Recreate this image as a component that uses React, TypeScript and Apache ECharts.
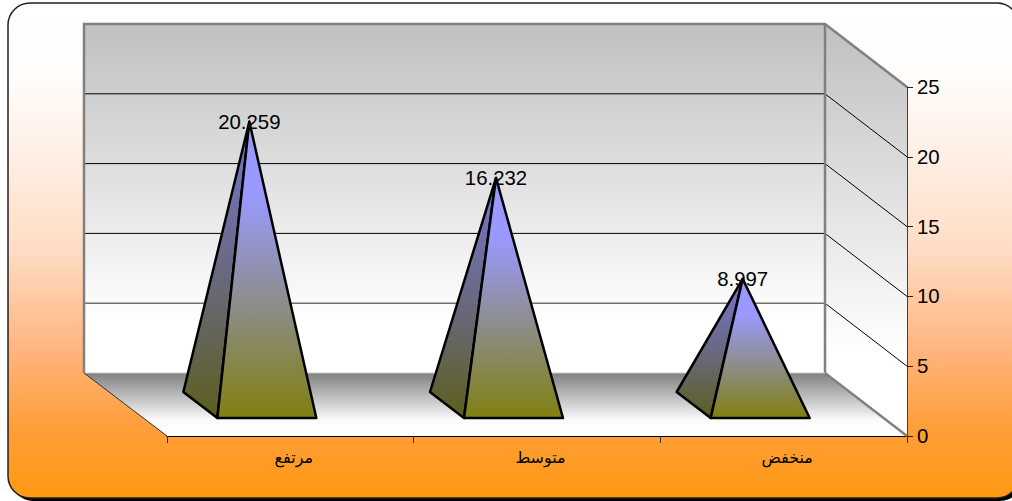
import React, { useEffect, useRef } from "react";
import * as echarts from "echarts";

const categories = ["مرتفع", "متوسط", "منخفض"];
const values = [20.259, 16.232, 8.997];
const yTicks = [5, 10, 15, 20, 25];

// 3-D projection of the plot box (px)
const DEPTH_X = 82;
const DEPTH_Y = 63;

const LG = (stops: [number, string][]) =>
  new echarts.graphic.LinearGradient(0, 0, 0, 1, stops.map(([offset, color]) => ({ offset, color })));

function renderWalls(_: any, api: any) {
  const [x0, y0] = api.coord([0, 0]);
  const size = api.size([1, 0]);
  const left = x0 - size[0] / 2;
  const right = left + size[0] * categories.length;
  const yTop = api.coord([0, 25])[1];
  const bx0 = left - DEPTH_X - 1;
  const bx1 = right - DEPTH_X;
  const by0 = y0 - DEPTH_Y;
  const byTop = yTop - DEPTH_Y;
  const children: any[] = [
    {
      type: "polygon",
      shape: { points: [[bx0, by0], [bx1, by0], [right, y0], [left, y0]] },
      style: { fill: LG([[0, "#808080"], [0.75, "#fbfbfb"], [1, "#ffffff"]]) },
    },
    {
      type: "polygon",
      shape: { points: [[bx1, byTop], [right, yTop], [right, y0], [bx1, by0]] },
      style: { fill: LG([[0, "#c0c0c0"], [0.8, "#ffffff"], [1, "#ffffff"]]) },
    },
    {
      type: "rect",
      shape: { x: bx0, y: byTop, width: bx1 - bx0, height: by0 - byTop },
      style: { fill: LG([[0, "#c0c0c0"], [0.85, "#ffffff"], [1, "#ffffff"]]) },
    },
  ];
  yTicks.slice(0, -1).forEach((t, i) => {
    const y = api.coord([0, t])[1];
    children.push(
      {
        type: "line",
        shape: { x1: bx0, y1: y - DEPTH_Y, x2: bx1, y2: y - DEPTH_Y },
        style: { stroke: i === 0 ? "#707070" : "#000000", lineWidth: i === 0 ? 1.5 : 1 },
      },
      {
        type: "line",
        shape: { x1: bx1, y1: y - DEPTH_Y, x2: right, y2: y },
        style: { stroke: "#000000", lineWidth: 1 },
      }
    );
  });
  children.push(
    {
      type: "polyline",
      shape: { points: [[bx0, by0], [bx0, byTop], [bx1, byTop], [right, yTop]] },
      style: { fill: "none", stroke: "#808080", lineWidth: 2.5 },
    },
    {
      type: "polyline",
      shape: { points: [[bx1, byTop], [bx1, by0], [right, y0]] },
      style: { fill: "none", stroke: "#808080", lineWidth: 2.5 },
    },
    {
      type: "line",
      shape: { x1: bx0, y1: by0, x2: bx1, y2: by0 },
      style: { stroke: "#c8c8c8", lineWidth: 1 },
    },
    {
      type: "line",
      shape: { x1: bx0, y1: by0, x2: left, y2: y0 },
      style: { stroke: "#303030", lineWidth: 1 },
    }
  );
  return { type: "group", children };
}

function renderPyramid(_: any, api: any) {
  const idx = api.value(0);
  const v = api.value(1);
  const [cx, top] = api.coord([idx, v]);
  const y0 = api.coord([idx, 0])[1];
  const apex = [cx - DEPTH_X / 2, top - DEPTH_Y / 2];
  const frontLeft = [cx - 73, y0 - 18];
  const frontRight = [cx + 26, y0 - 18];
  const backLeft = [cx - 107, y0 - 44];
  const stroke = { stroke: "#000000", lineWidth: 2.5, lineJoin: "round" };
  return {
    type: "group",
    children: [
      {
        type: "text",
        style: {
          text: v.toFixed(3),
          x: apex[0],
          y: apex[1],
          align: "center",
          verticalAlign: "middle",
          font: '20.4px "Liberation Sans", Arial, sans-serif',
          fill: "#000000",
        },
      },
      {
        type: "polygon",
        shape: { points: [apex, backLeft, frontLeft] },
        style: { fill: LG([[0, "#7676d0"], [0.55, "#68687a"], [1, "#5e5e1e"]]), ...stroke },
      },
      {
        type: "polygon",
        shape: { points: [apex, frontLeft, frontRight] },
        style: { fill: LG([[0, "#9999ff"], [0.25, "#9999ff"], [1, "#808010"]]), ...stroke },
      },
    ],
  };
}

export default function App() {
  const ref = useRef<HTMLDivElement>(null);
  useEffect(() => {
    document.body.style.margin = "0";
    const chart = echarts.init(ref.current!, undefined, { renderer: "svg" });
    chart.setOption({
      animation: false,
      backgroundColor: "#ffffff",
      graphic: [
        {
          type: "rect",
          z: -20,
          shape: { x: 11, y: 6, width: 1011, height: 495, r: 22 },
          style: { fill: "#000000" },
        },
        {
          type: "rect",
          z: -19,
          shape: { x: 8, y: 3, width: 1011, height: 495, r: 22 },
          style: {
            fill: LG([
              [0, "#ffffff"],
              [0.15, "#fffcfa"],
              [0.3, "#fff0e6"],
              [0.5, "#ffdcc4"],
              [0.7, "#ffb57f"],
              [0.86, "#ff9e38"],
              [1, "#ff9912"],
            ]),
            stroke: "#202020",
            lineWidth: 1.5,
          },
        },
      ],
      grid: { left: 167, top: 87, width: 740, height: 349, containLabel: false },
      xAxis: {
        type: "category",
        data: categories,
        axisLine: { show: true, lineStyle: { color: "#000000", width: 1 } },
        axisTick: { show: true, length: 7, lineStyle: { color: "#303030" } },
        axisLabel: {
          margin: 13,
          color: "#000000",
          fontSize: 16,
          padding: [0, 0, 0, 7],
          fontFamily: '"Liberation Sans", Arial, "DejaVu Sans", sans-serif',
        },
        splitLine: { show: false },
      },
      yAxis: {
        type: "value",
        position: "right",
        min: 0,
        max: 25,
        interval: 5,
        axisLine: { show: true, lineStyle: { color: "#404040", width: 2 } },
        axisTick: { show: true, length: 6, lineStyle: { color: "#202020", width: 1 } },
        axisLabel: {
          margin: 10,
          color: "#000000",
          fontSize: 20.4,
          fontFamily: '"Liberation Sans", Arial, sans-serif',
        },
        splitLine: { show: false },
      },
      series: [
        {
          type: "custom",
          z: 1,
          renderItem: renderWalls,
          data: [[0, 0]],
          encode: { x: 0, y: 1 },
          silent: true,
        },
        {
          type: "custom",
          z: 3,
          renderItem: renderPyramid,
          data: values.map((v, i) => [i, v]),
          encode: { x: 0, y: 1 },
          silent: true,
        },
      ],
    });
    return () => chart.dispose();
  }, []);
  return <div ref={ref} style={{ position: "absolute", left: 0, top: 0, width: 1012, height: 501 }} />;
}
